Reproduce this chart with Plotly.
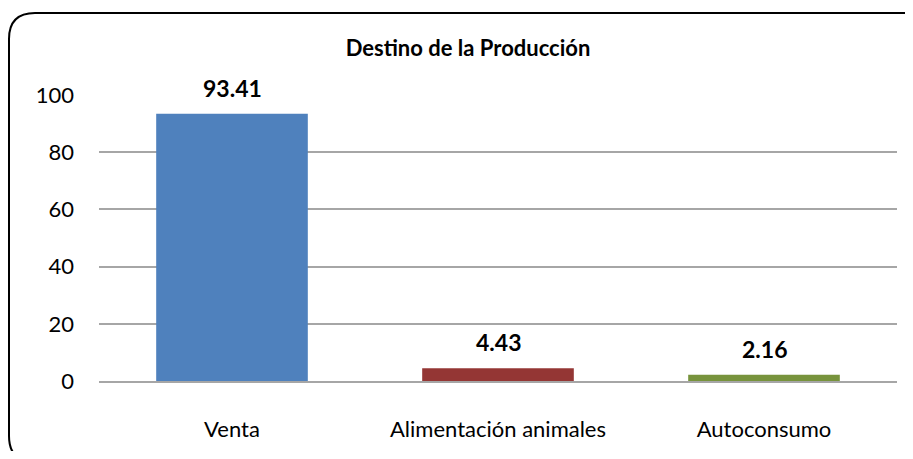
import plotly.graph_objects as go

categories = ["Venta", "Alimentación animales", "Autoconsumo"]
values = [93.41, 4.43, 2.16]
colors = ["#4F81BD", "#943634", "#77933C"]
y_ticks = [0, 20, 40, 60, 80, 100]

OFF = 8  # page (body) margin around the figure in the browser
SW, SH = 913, 459
W, H = SW - 2 * OFF, SH - 2 * OFF  # keep page within the window (no scrollbars)
# desired plot area in screen pixels
SL, SR, ST, SB = 99, 897, 95, 381
L, T = SL - OFF, ST - OFF
R = W - (SR - OFF)
B = H - (SB - OFF)
pw, ph = SR - SL, SB - ST

def px(x):  # screen x -> paper
    return (x - SL) / pw

def py(y):  # screen y -> paper
    return (SB - y) / ph

# rounded border box (screen pixel coords converted to paper)
x0, y0, x1, y1, r = 9, 13, 929, 462, 26
path = (
    f"M {px(x0)},{py(y0 + r)} "
    f"Q {px(x0)},{py(y0)} {px(x0 + r)},{py(y0)} "
    f"L {px(x1 - r)},{py(y0)} "
    f"Q {px(x1)},{py(y0)} {px(x1)},{py(y0 + r)} "
    f"L {px(x1)},{py(y1 - r)} "
    f"Q {px(x1)},{py(y1)} {px(x1 - r)},{py(y1)} "
    f"L {px(x0 + r)},{py(y1)} "
    f"Q {px(x0)},{py(y1)} {px(x0)},{py(y1 - r)} Z"
)

font_family = "Lato, 'Open Sans', sans-serif"

fig = go.Figure()
fig.add_trace(go.Bar(
    x=categories, y=values, marker=dict(color=colors, line=dict(width=0)),
    width=0.57, showlegend=False, hoverinfo="skip",
))

for c, v in zip(categories, values):
    fig.add_annotation(
        x=c, y=v, text=f"<b>{v:.2f}</b>", showarrow=False,
        yanchor="bottom", yshift=10, font=dict(size=23, color="black", family=font_family),
    )

fig.add_shape(type="path", path=path, xref="paper", yref="paper",
              line=dict(color="black", width=2), layer="above")

fig.update_layout(
    width=W, height=H,
    margin=dict(l=L, r=R, t=T, b=B),
    paper_bgcolor="white", plot_bgcolor="white",
    font=dict(family=font_family, color="black", size=22),
    title=dict(text="<b>Destino de la Producción</b>", x=px(468), xref="paper",
               xanchor="center", y=1 - (48 - OFF) / H, yanchor="middle",
               font=dict(size=22, color="black", family=font_family)),
    bargap=0.43,
)
fig.update_yaxes(range=[0, 100], tickvals=y_ticks, showgrid=True, gridcolor="#A6A6A6",
                 gridwidth=1.5, zeroline=False, showline=False, ticks="",
                 ticklabelstandoff=24, tickfont=dict(size=22))
fig.update_xaxes(showgrid=False, showline=True, linecolor="#A6A6A6", linewidth=1.5,
                 ticks="", ticklabelstandoff=28, tickfont=dict(size=22))

fig.write_html("out.html")
